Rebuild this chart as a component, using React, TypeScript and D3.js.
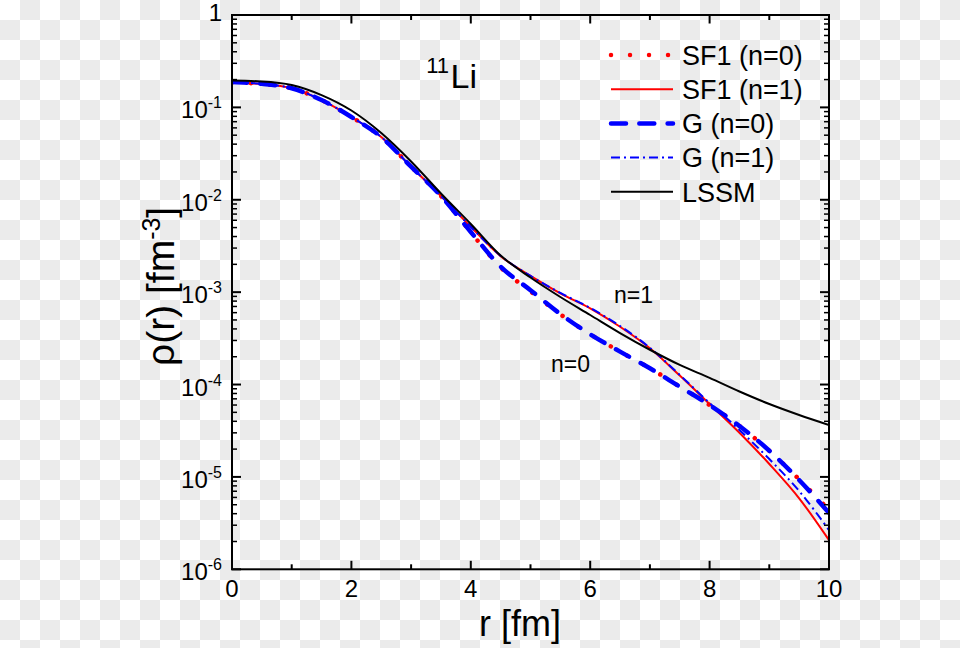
import React from "react";
import * as d3 from "d3";

// radius grid (fm)
const radii = [0, 0.5, 1, 1.5, 2, 2.5, 3, 3.5, 4, 4.5, 5, 5.5, 6, 6.5, 7, 7.5, 8, 8.5, 9, 9.5, 10];

const sf1n0 = [0.186, 0.179, 0.161, 0.12, 0.0787, 0.0478, 0.0228, 0.011, 0.00445, 0.00185, 0.00102, 5.75e-4, 3.5e-4, 2.27e-4, 1.5e-4, 9.5e-5, 6.0e-5, 3.56e-5, 1.92e-5, 9.4e-6, 4.4e-6];
const sf1n1 = [0.185, 0.179, 0.161, 0.12, 0.0787, 0.0478, 0.0228, 0.01098, 0.0051, 0.00245, 0.0015, 9.71e-4, 6.68e-4, 4.22e-4, 2.47e-4, 1.25e-4, 6.15e-5, 3.01e-5, 1.38e-5, 5.87e-6, 2.07e-6];
const gn0 = [0.188, 0.18, 0.161, 0.12, 0.0787, 0.0478, 0.0228, 0.011, 0.00448, 0.00189, 0.00105, 5.8e-4, 3.5e-4, 2.27e-4, 1.5e-4, 9.47e-5, 6.0e-5, 3.56e-5, 1.92e-5, 9.26e-6, 4.07e-6];
const gn1 = [0.187, 0.18, 0.161, 0.12, 0.0787, 0.0478, 0.0228, 0.011, 0.0051, 0.00247, 0.0015, 9.8e-4, 6.75e-4, 4.3e-4, 2.5e-4, 1.27e-4, 6.31e-5, 3.22e-5, 1.56e-5, 7.04e-6, 2.66e-6];
const lssm = [0.195, 0.191, 0.175, 0.136, 0.0925, 0.0528, 0.026, 0.0117, 0.00547, 0.00249, 0.00144, 8.86e-4, 5.66e-4, 3.61e-4, 2.38e-4, 1.63e-4, 1.18e-4, 8.4e-5, 6.15e-5, 4.68e-5, 3.65e-5];

const xTicks = [0, 2, 4, 6, 8, 10];
const xMinorTicks = [1, 3, 5, 7, 9];
const yDecadeExps = [0, -1, -2, -3, -4, -5, -6];
const legendLabels = ["SF1 (n=0)", "SF1 (n=1)", "G (n=0)", "G (n=1)", "LSSM"];

const FONT = "'Liberation Sans', Arial, Helvetica, sans-serif";

export default function App() {
  const W = 960;
  const H = 648;
  const left = 232, right = 829, top = 15, bottom = 569.3;
  const x = d3.scaleLinear().domain([0, 10]).range([left, right]);
  const y = d3.scaleLog().domain([1e-6, 1]).range([bottom, top]);

  const line = d3
    .line<[number, number]>()
    .x((d) => x(d[0]))
    .y((d) => y(d[1]))
    .curve(d3.curveMonotoneX);
  const mk = (vals: number[]) => line(radii.map((r, i) => [r, vals[i]] as [number, number])) || "";

  const styles = [
    { stroke: "#ff0000", width: 4.5, dash: "0.01 19", cap: "round" as const },
    { stroke: "#ff0000", width: 2, dash: undefined, cap: "butt" as const },
    { stroke: "#0000ff", width: 4.5, dash: "15 13.3", cap: "round" as const },
    { stroke: "#0000ff", width: 2, dash: "9 4 2 4", cap: "butt" as const },
    { stroke: "#000000", width: 2, dash: undefined, cap: "butt" as const },
  ];
  const series = [sf1n0, sf1n1, gn0, gn1, lssm];

  const yMinor: number[] = [];
  for (let e = -6; e < 0; e++) for (let k = 2; k <= 9; k++) yMinor.push(k * Math.pow(10, e));

  return (
    <svg
      width={W}
      height={H}
      style={{ position: "absolute", left: 0, top: 0, display: "block" }}
      fontFamily={FONT}
    >
      <defs>
        <pattern id="checker" width={40} height={40} patternUnits="userSpaceOnUse">
          <rect x={0} y={0} width={40} height={40} fill="#ffffff" />
          <rect x={20} y={0} width={20} height={20} fill="#ebebeb" />
          <rect x={0} y={20} width={20} height={20} fill="#ebebeb" />
        </pattern>
        <clipPath id="plotclip">
          <rect x={left} y={top} width={right - left} height={bottom - top} />
        </clipPath>
      </defs>
      <rect x={0} y={0} width={W} height={H} fill="url(#checker)" />

      {/* curves */}
      <g clipPath="url(#plotclip)" fill="none">
        {series.map((s, i) => (
          <path
            key={i}
            d={mk(s)}
            stroke={styles[i].stroke}
            strokeWidth={styles[i].width}
            strokeDasharray={styles[i].dash}
            strokeLinecap={styles[i].cap}
          />
        ))}
      </g>

      {/* axes frame */}
      <rect x={left} y={top} width={right - left} height={bottom - top} fill="none" stroke="#000" strokeWidth={2} />

      {/* x ticks */}
      {xTicks.map((t) => (
        <g key={"xt" + t}>
          <line x1={x(t)} x2={x(t)} y1={bottom} y2={bottom - 8.5} stroke="#000" strokeWidth={2} />
          <line x1={x(t)} x2={x(t)} y1={top} y2={top + 8.5} stroke="#000" strokeWidth={2} />
          <text x={x(t)} y={597} textAnchor="middle" fontSize={24}>
            {t}
          </text>
        </g>
      ))}
      {xMinorTicks.map((t) => (
        <g key={"xm" + t}>
          <line x1={x(t)} x2={x(t)} y1={bottom} y2={bottom - 5} stroke="#000" strokeWidth={2} />
          <line x1={x(t)} x2={x(t)} y1={top} y2={top + 5} stroke="#000" strokeWidth={2} />
        </g>
      ))}

      {/* y ticks */}
      {yDecadeExps.map((e) => {
        const v = Math.pow(10, e);
        const yy = y(v);
        return (
          <g key={"yt" + e}>
            <line x1={left} x2={left + 9} y1={yy} y2={yy} stroke="#000" strokeWidth={2} />
            <line x1={right} x2={right - 9} y1={yy} y2={yy} stroke="#000" strokeWidth={2} />
            {e === 0 ? (
              <text x={222} y={21} textAnchor="end" fontSize={24}>
                1
              </text>
            ) : (
              <text x={222} y={yy + 11} textAnchor="end" fontSize={24}>
                10
                <tspan fontSize={16} dy={-10}>
                  {String(e)}
                </tspan>
              </text>
            )}
          </g>
        );
      })}
      {yMinor.map((v, i) => (
        <g key={"ym" + i}>
          <line x1={left} x2={left + 5} y1={y(v)} y2={y(v)} stroke="#000" strokeWidth={1.5} />
          <line x1={right} x2={right - 5} y1={y(v)} y2={y(v)} stroke="#000" strokeWidth={1.5} />
        </g>
      ))}

      {/* axis titles */}
      <text x={520} y={636} textAnchor="middle" fontSize={36}>
        r [fm]
      </text>
      <text transform="translate(174,366) rotate(-90)" textAnchor="start" fontSize={39}>
        ρ(r) [fm
        <tspan fontSize={25} dy={-14}>
          -3
        </tspan>
        <tspan dy={14}>]</tspan>
      </text>

      {/* nucleus label */}
      <text x={449} y={73} textAnchor="end" fontSize={22}>
        11
      </text>
      <text x={450.5} y={88} fontSize={34}>
        Li
      </text>

      {/* curve annotations */}
      <text x={614} y={303} fontSize={23}>
        n=1
      </text>
      <text x={551} y={372} fontSize={23}>
        n=0
      </text>

      {/* legend */}
      {legendLabels.map((lab, i) => {
        const ly = 55 + i * 34.2;
        return (
          <g key={"lg" + i}>
            <line
              x1={611}
              x2={673}
              y1={ly}
              y2={ly}
              stroke={styles[i].stroke}
              strokeWidth={styles[i].width}
              strokeDasharray={styles[i].dash}
              strokeLinecap={styles[i].cap}
            />
            <text x={682} y={ly + 9.7} fontSize={27}>
              {lab}
            </text>
          </g>
        );
      })}
    </svg>
  );
}
